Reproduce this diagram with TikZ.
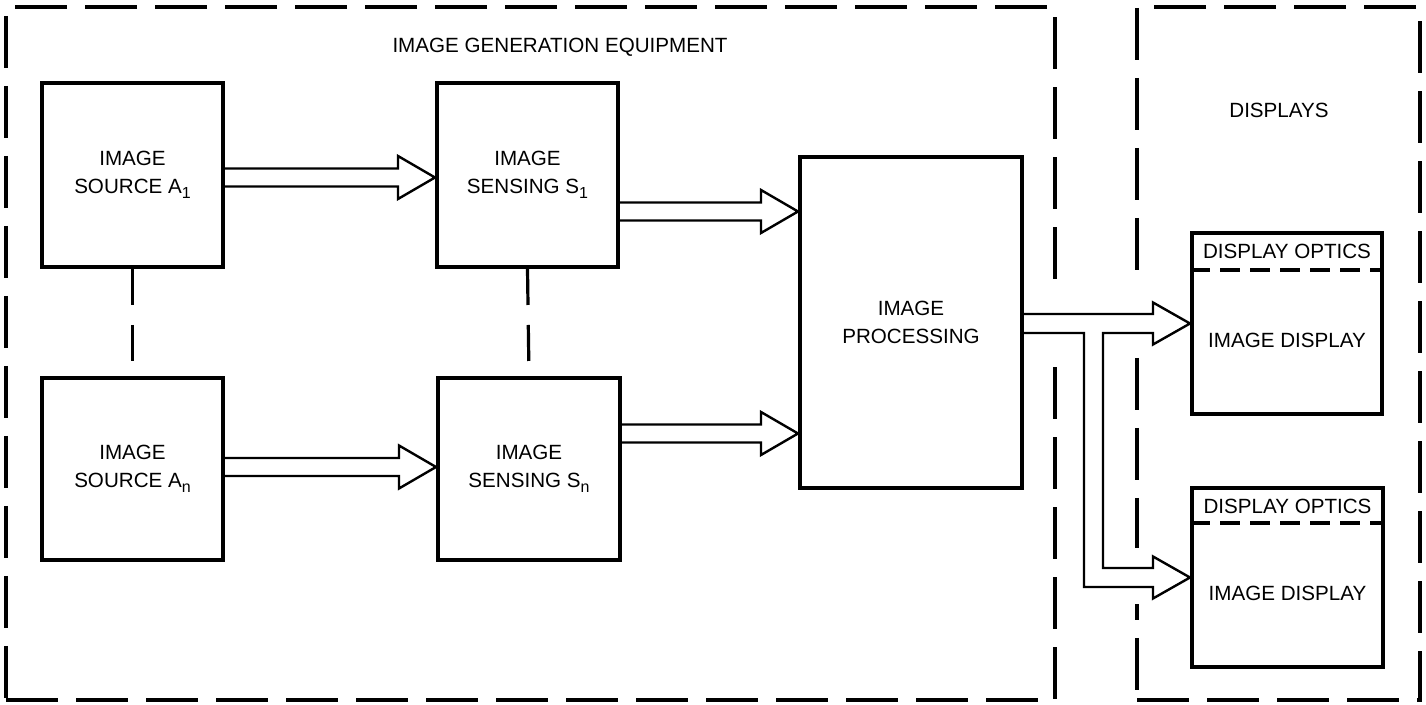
\documentclass[tikz,border=0pt]{standalone}
\usepackage{fontspec}
\setmainfont{Liberation Sans}
\usetikzlibrary{calc}
\newcommand\sbs[1]{\raisebox{-0.5ex}{\fontsize{8}{8}\selectfont #1}}
\newcommand\hollow[3]{%
  \coordinate (ax) at (0,#3);
  \draw[arr] ($(#1.east|-ax)+(0,-9)$) -- ($(#2.west|-ax)+(-37,-9)$)
    -- ($(#2.west|-ax)+(-37,-21.5)$) -- (#2.west|-ax)
    -- ($(#2.west|-ax)+(37*-1,21.5)$) -- ($(#2.west|-ax)+(-37,9)$)
    -- ($(#1.east|-ax)+(0,9)$);}
\begin{document}
\begin{tikzpicture}[x=0.5pt,y=-0.5pt,
  every node/.style={font=\fontsize{10.3}{14}\selectfont, inner sep=0pt, align=center},
  blk/.style={draw, line width=2pt, rectangle},
  region/.style={draw, line width=2pt, dash pattern=on 26pt off 9pt, rectangle},
  arr/.style={line width=1.2pt, line join=miter},
  link/.style={line width=1.6pt, dash pattern=on 18pt off 10pt},
  divider/.style={line width=1.6pt, dash pattern=on 10pt off 5pt},
  gap/.style={fill=white}]
\fill[white] (0,0) rectangle (1426,705);
\useasboundingbox (0,0) rectangle (1426,705);
% regions
\node[region, minimum width=524.5pt, minimum height=346.5pt] (gen) at (530.5,353.5) {};
\node[region, minimum width=141.5pt, minimum height=346.5pt] (disp) at (1278.5,353.5) {};
\node (gentitle) at (560,47) {IMAGE GENERATION EQUIPMENT};
\node (disptitle) at (1279,110) {DISPLAYS};
% gaps of the dashed borders where the arrows cross
\fill[gap] (1048,286) rectangle (1062,356);
\fill[gap] (1130,286) rectangle (1144,356);
\fill[gap] (1130,548) rectangle (1144,604);
% blocks
\node[blk, minimum width=90.5pt, minimum height=92pt] (a1) at (132.5,175) {IMAGE\\SOURCE A\sbs{1}};
\node[blk, minimum width=90.5pt, minimum height=91pt] (an) at (132.5,469) {IMAGE\\SOURCE A\sbs{n}};
\node[blk, minimum width=90.5pt, minimum height=92pt] (s1) at (527.5,175) {IMAGE\\SENSING S\sbs{1}};
\node[blk, minimum width=91pt, minimum height=91pt] (sn) at (529,469) {IMAGE\\SENSING S\sbs{n}};
\node[blk, minimum width=111pt, minimum height=165.5pt] (proc) at (911,322.5) {IMAGE\\PROCESSING};
\node[blk, minimum width=95pt, minimum height=90.5pt] (d1) at (1287,323.5) {};
\node[blk, minimum width=95.5pt, minimum height=89.5pt] (d2) at (1287.5,577.5) {};
% display contents
\node (o1) at (1287,251) {DISPLAY OPTICS};
\node (i1) at (1287,340) {IMAGE DISPLAY};
\draw[divider] (d1.west|-0,270) -- (d1.east|-0,270);
\node (o2) at (1287.5,506) {DISPLAY OPTICS};
\node (i2) at (1287.5,593) {IMAGE DISPLAY};
\draw[divider] (d2.west|-0,523) -- (d2.east|-0,523);
% dashed links
\draw[link] (a1.south) -- (an.north);
\draw[link] (s1.south) -- (sn.north);
% hollow arrows
\hollow{a1}{s1}{177.5}
\hollow{an}{sn}{467}
\hollow{s1}{proc}{211.5}
\hollow{sn}{proc}{433.5}
% branching arrow to displays
\coordinate (bi) at (1103,0);
\coordinate (bo) at (1084,0);
\draw[arr] ($(proc.east|-d1.west)+(0,-9.5)$) -- ($(d1.west)+(-37,-9.5)$)
  -- ($(d1.west)+(-37,-21)$) -- (d1.west) -- ($(d1.west)+(-37,21)$)
  -- ($(d1.west)+(-37,9.5)$) -- ($(bi|-d1.west)+(0,9.5)$)
  -- ($(bi|-d2.west)+(0,-9.5)$) -- ($(d2.west)+(-37,-9.5)$)
  -- ($(d2.west)+(-37,-21)$) -- (d2.west) -- ($(d2.west)+(-37,21)$)
  -- ($(d2.west)+(-37,9.5)$) -- ($(bo|-d2.west)+(0,9.5)$)
  -- ($(bo|-d1.west)+(0,9.5)$) -- ($(proc.east|-d1.west)+(0,9.5)$);
\end{tikzpicture}
\end{document}
